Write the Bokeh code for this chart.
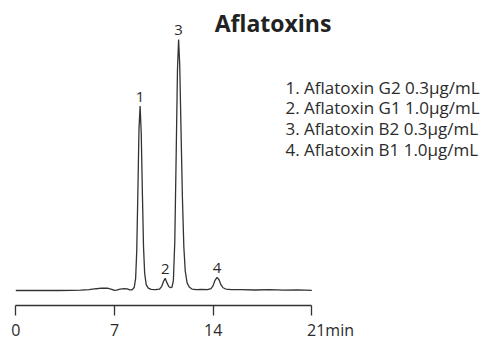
from bokeh.plotting import figure
from bokeh.models import Range1d, FixedTicker, Label, ColumnDataSource, CustomJSTickFormatter
from bokeh.core.properties import value
from bokeh.embed import file_html
from bokeh.resources import INLINE

# ---- data ----
time_min = [0, 1, 2, 3, 4, 4.6, 5.2, 5.7, 6.1, 6.5, 6.8, 7.0, 7.15, 7.4, 7.7, 7.9,
            8.1, 8.25, 8.4, 8.5, 8.58, 8.66, 8.74, 8.82, 8.9, 8.98, 9.06, 9.14,
            9.25, 9.4, 9.6, 9.9, 10.2, 10.35, 10.47, 10.6, 10.72, 10.85, 10.98,
            11.08, 11.18, 11.28, 11.38, 11.47, 11.55, 11.63, 11.72, 11.82, 11.92,
            12.02, 12.15, 12.3, 12.5, 12.8, 13.2, 13.6, 13.85, 14.0, 14.12, 14.28,
            14.42, 14.55, 14.7, 14.9, 15.3, 16, 17, 18, 19, 20, 21]
signal = [0, 0, 0.2, 0, 0.2, 0.3, 0.8, 1.8, 2.4, 2.3, 1.2, 0.2, 0.3, 1.4, 2.0, 1.6,
          0.6, 0.6, 3, 12, 40, 100, 165, 188, 160, 100, 45, 18,
          6, 2.5, 1.2, 0.8, 1.5, 4, 9, 12.5, 8, 4, 2.8,
          3.5, 10, 50, 140, 225, 256, 230, 165, 95, 45,
          20, 8, 3.5, 1.5, 0.8, 1.2, 0.8, 2, 5, 10, 13.4,
          11, 6, 2.8, 1.5, 0.8, 0.9, 0.5, 0.8, 0.4, 0.6, 0.2]

peak_ids = ["1", "2", "3", "4"]
peak_times = [8.82, 10.6, 11.55, 14.28]
peak_heights = [188, 12.5, 256, 13.4]

legend_lines = ["1. Aflatoxin G2 0.3\u00b5g/mL",
                "2. Aflatoxin G1 1.0\u00b5g/mL",
                "3. Aflatoxin B2 0.3\u00b5g/mL",
                "4. Aflatoxin B1 1.0\u00b5g/mL"]
x_ticks = [0, 7, 14, 21]
x_tick_labels = ["0", "7", "14", "21min"]
title_text = "Aflatoxins"

# ---- layout ----
W, H = 488, 343
px_per_min = 296 / 21.0
x0 = -15.3 / px_per_min
axis_px = 311
frame_h = axis_px
y0 = -(axis_px - 295.7)
FONT = "Open Sans"
TXT = "#2b2b2b"

p = figure(width=W, height=H, output_backend="svg", toolbar_location=None,
           x_range=Range1d(x0, x0 + W / px_per_min),
           y_range=Range1d(y0, y0 + frame_h),
           y_axis_location=None, min_border_left=0, min_border_right=0,
           min_border_top=0, min_border_bottom=H - axis_px)
p.outline_line_color = None
p.xgrid.visible = False
p.ygrid.visible = False

p.line(time_min, signal, line_color="#333333", line_width=1.3)

src = ColumnDataSource(dict(x=peak_times, y=peak_heights, t=peak_ids))
p.text("x", "y", text="t", source=src, text_font=value(FONT),
       text_font_size="15px", text_color=TXT, text_align="center",
       text_baseline="middle", y_offset=-9)

leg_x = [19.13] * len(legend_lines)
leg_y = [207.4 - 21.2 * i for i in range(len(legend_lines))]
p.text(leg_x, leg_y, text=legend_lines, text_font=value(FONT),
       text_font_size="17px", text_color=TXT, text_align="left",
       text_baseline="middle")

p.add_layout(Label(x=18.25, y=273.2, text=title_text, text_font=FONT,
                   text_font_size="23px", text_font_style="bold",
                   text_color="#222222", text_align="center",
                   text_baseline="middle"))

ax = p.xaxis[0]
ax.ticker = FixedTicker(ticks=x_ticks)
# the last label carries the unit; pad it on the left so "21" sits under its tick
ax.formatter = CustomJSTickFormatter(args=dict(tv=x_ticks, tl=x_tick_labels), code="""
    const i = tv.indexOf(tick);
    if (i < 0) return String(tick);
    const s = tl[i];
    return s === String(tick) ? s : "\\u00a0".repeat(9) + s;
""")
ax.bounds = (0, 21)
ax.minor_tick_line_color = None
ax.major_tick_in = 0
ax.major_tick_out = 10
ax.axis_line_color = "#333333"
ax.axis_line_width = 1.3
ax.major_tick_line_color = "#333333"
ax.major_tick_line_width = 1.3
ax.major_label_text_font = FONT
ax.major_label_text_font_size = "16px"
ax.major_label_text_color = TXT
ax.major_label_standoff = 3

open("out.html", "w").write(file_html(p, INLINE))
